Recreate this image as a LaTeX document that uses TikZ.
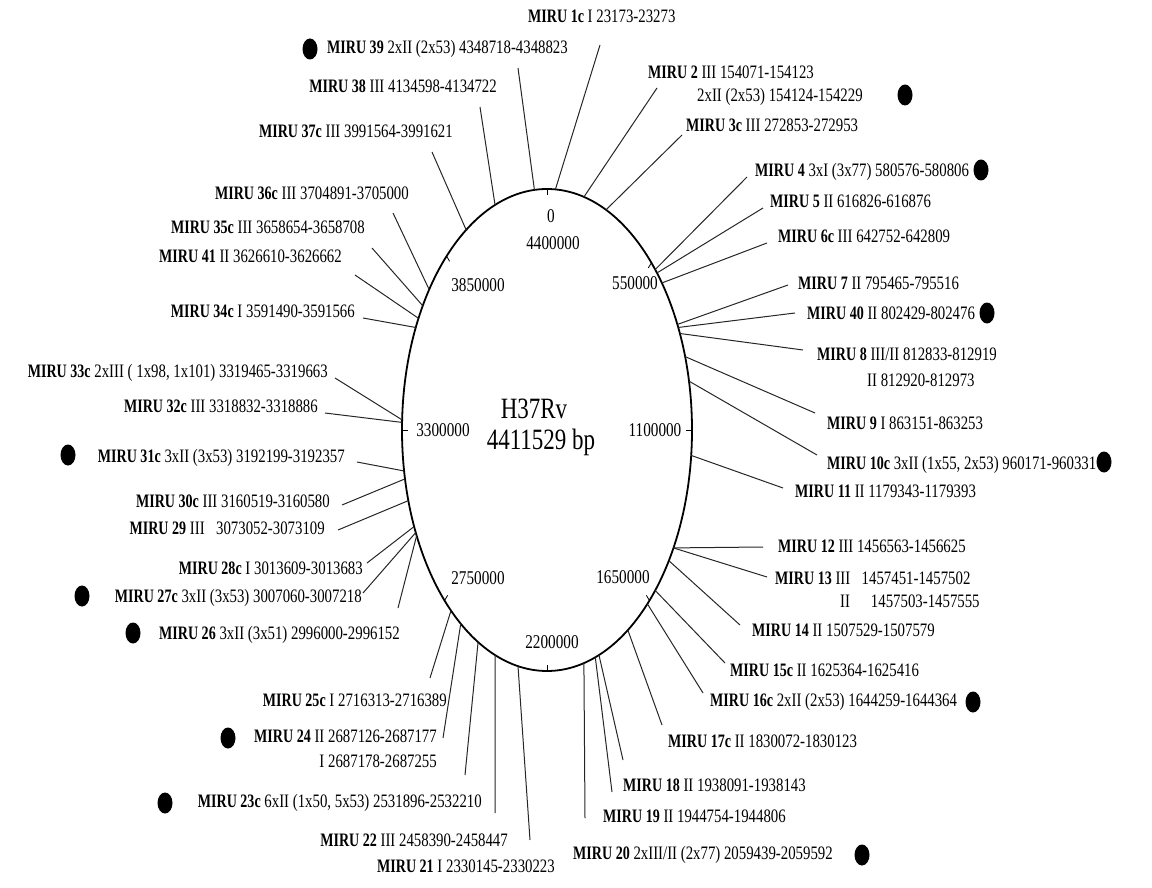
\documentclass[tikz,border=0pt]{standalone}
\usepackage{fontspec}
\setmainfont{Liberation Serif}[FakeStretch=0.78, BoldFeatures={FakeStretch=0.74}]
\usetikzlibrary{shapes.geometric,calc}
\begin{document}
\begin{tikzpicture}[x=1pt,y=-1pt,
  lbl/.style={inner sep=0pt, font=\fontsize{19}{22}\selectfont, text height=12pt, text depth=3pt},
  tkl/.style={inner sep=0pt, font=\fontsize{19.5}{23}\selectfont},
  conn/.style={line width=1pt, black!85},
  dotm/.style={ellipse, fill=black, minimum width=15pt, minimum height=21pt, inner sep=0pt},
  tick/.style={line width=0.8pt}]
\useasboundingbox (0,0) rectangle (1152,888);
% genome circle
\node[draw, line width=1.8pt, ellipse, minimum width=290pt, minimum height=482pt, inner sep=0pt, outer sep=0pt] (E) at (547,430) {};
\node[inner sep=0pt, font=\fontsize{29.5}{34}\selectfont, align=center] (title) at (534,427) {H37Rv\\[-3pt]\hspace*{14pt}4411529 bp};
% scale ticks and labels
\foreach \a in {90,58,0,301.5,270,239,180,120.7}
  \draw[tick] (E.\a) -- ($(E.\a)!6pt!(E.center)$);
\node[tkl] (t0)  at (551,216) {0};
\node[tkl] (t44) at (553,243) {4400000};
\node[tkl] (t55) at (635,283) {550000};
\node[tkl] (t11) at (655,430) {1100000};
\node[tkl] (t165) at (623,577) {1650000};
\node[tkl] (t22) at (552,642) {2200000};
\node[tkl] (t275) at (478,578) {2750000};
\node[tkl] (t33) at (443,430) {3300000};
\node[tkl] (t385) at (478,285) {3850000};
% right-hand labels
\node[lbl, anchor=west] (m1c) at (528,18) {\textbf{MIRU 1c} I 23173-23273};
\node[lbl, anchor=west] (m2) at (648,74) {\textbf{MIRU 2} III 154071-154123};
\node[lbl, anchor=west] (m2b) at (697,97) {2xII (2x53) 154124-154229};
\node[dotm] (d2) at (905,95) {};
\node[lbl, anchor=west] (m3c) at (686,127) {\textbf{MIRU 3c} III 272853-272953};
\node[lbl, anchor=west] (m4) at (755,172) {\textbf{MIRU 4} 3xI (3x77) 580576-580806};
\node[dotm] (d4) at (981,170) {};
\node[lbl, anchor=west] (m5) at (770,203) {\textbf{MIRU 5} II 616826-616876};
\node[lbl, anchor=west] (m6c) at (778,238) {\textbf{MIRU 6c} III 642752-642809};
\node[lbl, anchor=west] (m7) at (798,285) {\textbf{MIRU 7} II 795465-795516};
\node[lbl, anchor=west] (m40) at (807,315) {\textbf{MIRU 40} II 802429-802476};
\node[dotm] (d40) at (987,313) {};
\node[lbl, anchor=west] (m8) at (817,356) {\textbf{MIRU 8} III/II 812833-812919};
\node[lbl, anchor=west] (m8b) at (867,382) {II 812920-812973};
\node[lbl, anchor=west] (m9) at (827,425) {\textbf{MIRU 9} I 863151-863253};
\node[lbl, anchor=west] (m10c) at (827,465) {\textbf{MIRU 10c} 3xII (1x55, 2x53) 960171-960331};
\node[dotm] (d10c) at (1104,462) {};
\node[lbl, anchor=west] (m11) at (795,493) {\textbf{MIRU 11} II 1179343-1179393};
\node[lbl, anchor=west] (m12) at (778,548) {\textbf{MIRU 12} III 1456563-1456625};
\node[lbl, anchor=west] (m13) at (775,580) {\textbf{MIRU 13} III\hspace{0.6em}1457451-1457502};
\node[lbl, anchor=west] (m13b) at (840,603) {II\hspace{1.1em}1457503-1457555};
\node[lbl, anchor=west] (m14) at (752,632) {\textbf{MIRU 14} II 1507529-1507579};
\node[lbl, anchor=west] (m15c) at (730,672) {\textbf{MIRU 15c} II 1625364-1625416};
\node[lbl, anchor=west] (m16c) at (710,702) {\textbf{MIRU 16c} 2xII (2x53) 1644259-1644364};
\node[dotm] (d16c) at (973,702) {};
\node[lbl, anchor=west] (m17c) at (668,743) {\textbf{MIRU 17c} II 1830072-1830123};
\node[lbl, anchor=west] (m18) at (623,787) {\textbf{MIRU 18} II 1938091-1938143};
\node[lbl, anchor=west] (m19) at (603,818) {\textbf{MIRU 19} II 1944754-1944806};
\node[lbl, anchor=west] (m20) at (573,855) {\textbf{MIRU 20} 2xIII/II (2x77) 2059439-2059592};
\node[dotm] (d20) at (862,855) {};
% left-hand labels
\node[lbl, anchor=west] (m39) at (327,49) {\textbf{MIRU 39} 2xII (2x53) 4348718-4348823};
\node[dotm] (d39) at (310,49) {};
\node[lbl, anchor=east] (m38) at (497,88) {\textbf{MIRU 38} III 4134598-4134722};
\node[lbl, anchor=east] (m37c) at (453,133) {\textbf{MIRU 37c} III 3991564-3991621};
\node[lbl, anchor=east] (m36c) at (409,195) {\textbf{MIRU 36c} III 3704891-3705000};
\node[lbl, anchor=east] (m35c) at (365,229) {\textbf{MIRU 35c} III 3658654-3658708};
\node[lbl, anchor=east] (m41) at (342,258) {\textbf{MIRU 41} II 3626610-3626662};
\node[lbl, anchor=east] (m34c) at (355,313) {\textbf{MIRU 34c} I 3591490-3591566};
\node[lbl, anchor=east] (m33c) at (328,373) {\textbf{MIRU 33c} 2xIII ( 1x98, 1x101) 3319465-3319663};
\node[lbl, anchor=east] (m32c) at (318,408) {\textbf{MIRU 32c} III 3318832-3318886};
\node[lbl, anchor=east] (m31c) at (345,458) {\textbf{MIRU 31c} 3xII (3x53) 3192199-3192357};
\node[dotm] (d31c) at (68,455) {};
\node[lbl, anchor=east] (m30c) at (330,503) {\textbf{MIRU 30c} III 3160519-3160580};
\node[lbl, anchor=east] (m29) at (325,530) {\textbf{MIRU 29} III\hspace{0.6em}3073052-3073109};
\node[lbl, anchor=east] (m28c) at (363,570) {\textbf{MIRU 28c} I 3013609-3013683};
\node[lbl, anchor=east] (m27c) at (362,598) {\textbf{MIRU 27c} 3xII (3x53) 3007060-3007218};
\node[dotm] (d27c) at (82,596) {};
\node[lbl, anchor=east] (m26) at (400,635) {\textbf{MIRU 26} 3xII (3x51) 2996000-2996152};
\node[dotm] (d26) at (133,633) {};
\node[lbl, anchor=east] (m25c) at (447,702) {\textbf{MIRU 25c} I 2716313-2716389};
\node[lbl, anchor=east] (m24) at (437,738) {\textbf{MIRU 24} II 2687126-2687177};
\node[lbl, anchor=east] (m24b) at (437,763) {I 2687178-2687255};
\node[dotm] (d24) at (228,738) {};
\node[lbl, anchor=east] (m23c) at (482,803) {\textbf{MIRU 23c} 6xII (1x50, 5x53) 2531896-2532210};
\node[dotm] (d23c) at (165,803) {};
\node[lbl, anchor=east] (m22) at (508,842) {\textbf{MIRU 22} III 2458390-2458447};
\node[lbl, anchor=east] (m21) at (555,868) {\textbf{MIRU 21} I 2330145-2330223};
% connectors: free end near label -> point on the genome circle
\foreach \n/\x/\y/\a in {
  1c/600/45/88.4, 2/657/88/81.4, 3c/682/135/75.8, 4/747/177/56.7, 5/763/208/55,
  6c/767/243/52, 7/788/285/39.5, 40/795/313/38.2, 8/803/350/36.6, 9/815/413/28.7,
  10c/817/455/19.5, 11/783/488/350.1, 12/763/547/317.1, 13/767/577/317.1,
  14/740/625/313.4, 15c/725/663/304.5, 16c/703/693/300.5, 17c/662/725/292.2,
  18/623/760/283.9, 19/612/792/282.7, 20/585/818/279.5,
  21/530/840/263.5, 22/495/813/257.5, 23c/465/775/252.5, 24/443/738/246,
  25c/430/678/242.8, 26/398/608/219.7, 27c/363/593/218.4, 28c/367/563/216.3,
  29/338/530/207.7, 30c/342/505/199.5, 31c/357/462/196.5, 32c/325/413/177.6,
  33c/335/378/176.8, 34c/363/318/142.9, 41/355/275/139, 35c/372/248/135.9,
  36c/393/213/130.8, 37c/432/152/112, 38/480/107/103.2, 39/518/68/93.6}
{
  \coordinate (p\n) at (\x,\y);
  \draw[conn] (p\n) -- (E.\a);
}
\end{tikzpicture}
\end{document}
